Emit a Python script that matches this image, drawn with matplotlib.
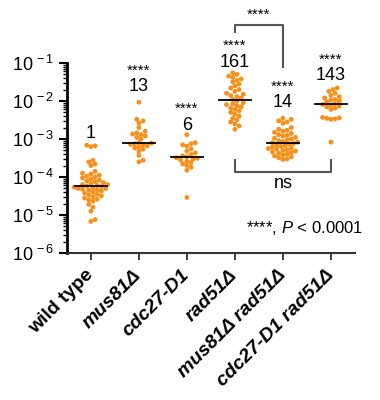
import numpy as np
import matplotlib
matplotlib.use("Agg")
import matplotlib.pyplot as plt
from matplotlib.ticker import LogLocator, NullFormatter

plt.rcParams['font.family'] = ['Liberation Sans', 'DejaVu Sans']
plt.rcParams['mathtext.fontset'] = 'custom'
plt.rcParams['mathtext.rm'] = 'Liberation Sans'
plt.rcParams['mathtext.it'] = 'Liberation Sans:italic'
plt.rcParams['mathtext.default'] = 'regular'

# === Data (rates) ===
strains = ['wild type', 'mus81Δ', 'cdc27-D1', 'rad51Δ', 'mus81Δ rad51Δ', 'cdc27-D1 rad51Δ']
italic = [False, True, True, True, True, True]

wild_type = [6.9e-4, 6.6e-4, 6.3e-4, 2.75e-4, 2.5e-4, 2.2e-4, 2.0e-4,
             1.41e-4, 1.26e-4, 1.20e-4, 1.12e-4, 1.05e-4, 1.0e-4, 9.5e-5, 8.9e-5,
             8.3e-5, 7.9e-5, 7.6e-5, 7.1e-5, 6.8e-5, 6.3e-5, 6.3e-5, 6.0e-5,
             5.75e-5, 5.6e-5, 5.4e-5, 5.25e-5, 5.0e-5, 5.0e-5, 4.8e-5, 4.6e-5,
             4.5e-5, 4.3e-5, 4.0e-5, 3.8e-5, 3.5e-5, 3.4e-5, 3.2e-5, 3.0e-5,
             2.8e-5, 2.6e-5, 2.5e-5, 2.3e-5, 1.9e-5, 1.6e-5, 1.26e-5, 7.6e-6, 6.8e-6]
mus81 = [9.3e-3, 3.3e-3, 3.0e-3, 2.6e-3, 2.0e-3, 1.6e-3, 1.45e-3, 1.35e-3, 1.3e-3,
         1.2e-3, 1.1e-3, 1.0e-3, 8.0e-4, 7.8e-4, 7.5e-4, 7.2e-4, 7.0e-4, 6.6e-4,
         6.2e-4, 5.8e-4, 5.4e-4, 4.8e-4, 3.7e-4, 2.75e-4, 2.5e-4]
cdc27 = [1.3e-3, 8.0e-4, 7.5e-4, 7.0e-4, 6.5e-4, 5.5e-4, 4.8e-4, 4.3e-4, 3.9e-4,
         3.6e-4, 3.4e-4, 3.2e-4, 3.1e-4, 3.0e-4, 2.8e-4, 2.6e-4, 2.4e-4, 2.2e-4,
         2.0e-4, 1.8e-4, 1.5e-4, 2.9e-5]
rad51 = [5.5e-2, 5.0e-2, 4.5e-2, 4.2e-2, 3.8e-2, 3.5e-2, 3.2e-2, 2.8e-2, 2.5e-2,
         2.2e-2, 2.0e-2, 1.8e-2, 1.6e-2, 1.5e-2, 1.4e-2, 1.3e-2, 1.2e-2, 1.1e-2,
         1.0e-2, 9.0e-3, 8.5e-3, 8.0e-3, 7.5e-3, 7.0e-3, 6.5e-3, 6.0e-3, 5.5e-3,
         5.0e-3, 4.5e-3, 4.0e-3, 3.5e-3, 3.2e-3, 2.8e-3, 2.5e-3, 2.2e-3, 1.8e-3]
mus81_rad51 = [3.5e-3, 3.3e-3, 3.0e-3, 2.8e-3, 2.6e-3, 2.0e-3, 1.8e-3, 1.7e-3, 1.6e-3,
               1.5e-3, 1.4e-3, 1.3e-3, 1.25e-3, 1.2e-3, 1.1e-3, 1.05e-3, 1.0e-3,
               9.5e-4, 9.0e-4, 8.6e-4, 8.2e-4, 8.0e-4, 7.6e-4, 7.3e-4, 7.0e-4,
               6.7e-4, 6.4e-4, 6.1e-4, 5.8e-4, 5.6e-4, 5.4e-4, 5.2e-4, 5.0e-4,
               4.8e-4, 4.6e-4, 4.4e-4, 4.2e-4, 4.0e-4, 3.8e-4, 3.6e-4, 3.4e-4,
               3.2e-4, 3.0e-4, 2.9e-4]
cdc27_rad51 = [2.2e-2, 2.0e-2, 1.8e-2, 1.6e-2, 1.4e-2, 1.3e-2, 1.2e-2, 1.1e-2, 1.05e-2,
               1.0e-2, 9.5e-3, 8.5e-3, 8.1e-3, 7.8e-3, 7.4e-3, 7.0e-3, 6.5e-3, 6.0e-3,
               3.7e-3, 3.6e-3, 3.5e-3, 3.4e-3, 3.3e-3, 8.3e-4]

groups = [wild_type, mus81, cdc27, rad51, mus81_rad51, cdc27_rad51]

# fold increase over wild type and significance
fold_labels = ['1', '13', '6', '161', '14', '143']
sig_labels = ['', '****', '****', '****', '****', '****']
yticks = [1e-6, 1e-5, 1e-4, 1e-3, 1e-2, 1e-1]
ytick_labels = ['10$^{\\,-6}$', '10$^{\\,-5}$', '10$^{\\,-4}$',
                '10$^{\\,-3}$', '10$^{\\,-2}$', '10$^{\\,-1}$']

# where the annotations sit (log10 height)
fold_y = [-2.86, -1.63, -2.65, -0.99, -2.05, -1.34]
sig_y = [None, -1.2, -2.2, -0.55, -1.63, -0.91]

orange = '#F5901A'


def swarm(ypix, d):
    # simple beeswarm: place points one by one on a grid of offsets
    order = np.argsort(ypix)
    xs = np.zeros(len(ypix))
    placed = []
    cands = [0.0]
    for j in range(1, 40):
        cands += [j * d / 2, -j * d / 2]
    for i in order:
        y = ypix[i]
        for c in cands:
            if all((c - px) ** 2 + (y - py) ** 2 >= d * d for px, py in placed):
                break
        xs[i] = c
        placed.append((c, y))
    return xs


fig = plt.figure(figsize=(3.8, 4.0), dpi=100)
ax = fig.add_axes([0.176, 0.3675, 0.758, 0.475])
ax.set_yscale('log')
ax.set_ylim(1e-6, 1e-1)
ax.set_xlim(-0.5, 5.5)

# pixels per category (for swarm offsets)
px_per_cat = ax.transData.transform((1, 1e-3))[0] - ax.transData.transform((0, 1e-3))[0]

for i, vals in enumerate(groups):
    vals = np.array(vals)
    ypix = ax.transData.transform(np.column_stack([np.full(len(vals), i), vals]))[:, 1]
    off = swarm(ypix, 4.2)
    ax.scatter(i + off / px_per_cat, vals, s=12, color=orange, edgecolors='none',
               zorder=2, clip_on=False)
    med = np.median(vals)
    ax.plot([i - 0.33, i + 0.33], [med, med], color='black', lw=1.3, zorder=3)

# labels above groups
for i in range(len(groups)):
    ax.text(i, 10 ** fold_y[i], fold_labels[i], ha='center', va='center', fontsize=13)
    if sig_labels[i]:
        ax.text(i, 10 ** sig_y[i], sig_labels[i], ha='center', va='center', fontsize=11)

# brackets
bc = '#555555'
ax.plot([3, 3, 4, 4], [10 ** -0.18, 10 ** 0.0, 10 ** 0.0, 10 ** -1.1], color=bc, lw=1.5,
        clip_on=False)
ax.text(3.5, 10 ** 0.28, '****', ha='center', va='center', fontsize=11)
ax.plot([3, 3, 5, 5], [10 ** -3.55, 10 ** -3.87, 10 ** -3.87, 10 ** -3.55], color=bc, lw=1.5)
ax.text(4.0, 10 ** -4.18, 'ns', ha='center', va='center', fontsize=13)

ax.text(1.03, 10 ** -5.34, '****, $\\it{P}$ < 0.0001', ha='right', va='center',
        fontsize=12, transform=ax.get_yaxis_transform())

# === Axes styling ===
ax.set_yticks(yticks)
ax.set_yticklabels(ytick_labels, fontsize=13)
ax.yaxis.set_minor_locator(LogLocator(base=10, subs=np.arange(2, 10), numticks=20))
ax.yaxis.set_minor_formatter(NullFormatter())
ax.tick_params(axis='y', which='major', length=6, width=1.5, pad=3)
ax.tick_params(axis='y', which='minor', length=3, width=1)
ax.set_xticks(range(len(strains)))
ax.set_xticklabels(strains, rotation=45, ha='right', va='center', rotation_mode='anchor',
                   fontsize=14, fontweight='bold')
for lab, it in zip(ax.get_xticklabels(), italic):
    if it:
        lab.set_style('italic')
ax.tick_params(axis='x', length=5, width=1.3, color='#333333', pad=9)
ax.spines['top'].set_visible(False)
ax.spines['right'].set_visible(False)
ax.spines['left'].set_linewidth(2)
ax.spines['bottom'].set_linewidth(1.5)
ax.spines['bottom'].set_color('#333333')

plt.savefig('out.png', dpi=100)
